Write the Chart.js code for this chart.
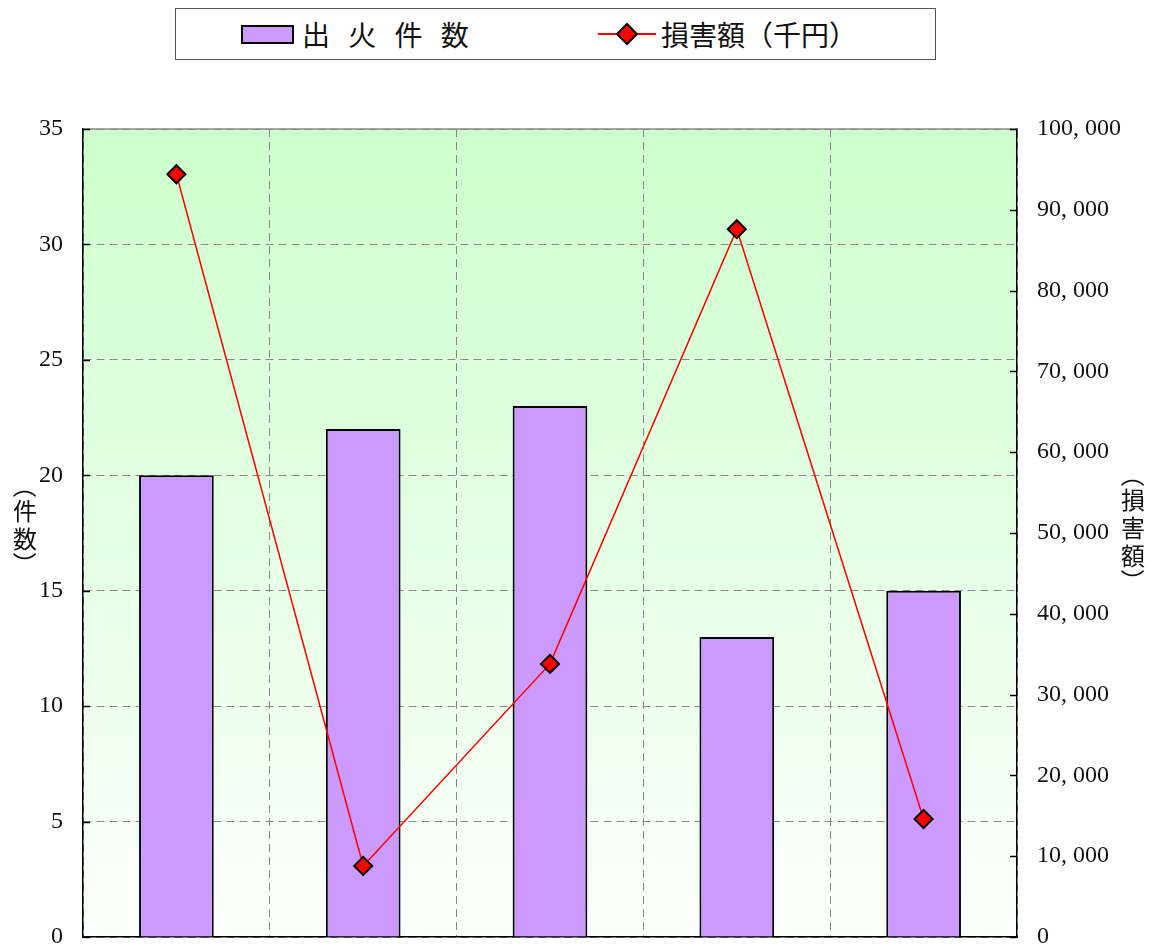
<!DOCTYPE html>
<html lang="ja">
<head>
  <meta charset="UTF-8">
  <title>出火件数と損害額</title>
  <style>
    * {
      margin: 0;
      padding: 0;
      box-sizing: border-box;
    }

    body {
      background-color: #fff;
      font-family: "Noto Sans CJK JP", sans-serif;
    }

    #wrap {
      position: relative;
      width: 1157px;
      height: 952px;
    }

    #legend {
      position: absolute;
      left: 175px;
      top: 8px;
      width: 761px;
      height: 52px;
      border: 1px solid #555;
      background: #fff;
      font-size: 28px;
      color: #111;
    }

    .item {
      position: absolute;
      top: 0;
      height: 50px;
      line-height: 50px;
      white-space: nowrap;
    }

    .swatch {
      position: absolute;
      left: 65px;
      top: 16px;
      width: 53px;
      height: 19px;
      background: #cc99ff;
      border: 2px solid #000;
    }

    .spaced {
      word-spacing: 12px;
    }
  </style>
  <script src="https://cdn.jsdelivr.net/npm/chart.js"></script>
</head>
<body>
  <div id="wrap">
    <canvas id="fireChart" width="1157" height="952"></canvas>
    <div id="legend">
      <span class="swatch"></span>
      <span class="item spaced" style="left:126px">出 火 件 数</span>
      <svg class="item" style="left:422px; top:0" width="60" height="50">
        <line x1="0" y1="25" x2="58" y2="25" stroke="#ff0000" stroke-width="2"/>
        <polygon points="29,15 39,25 29,35 19,25" fill="#ff0000" stroke="#000" stroke-width="2"/>
      </svg>
      <span class="item" style="left:485px">損害額（千円）</span>
    </div>
  </div>

  <script>
    // data
    const categories = ['1', '2', '3', '4', '5'];
    const fireCounts = [20, 22, 23, 13, 15];
    const damageAmounts = [94400, 8800, 33800, 87600, 14600];
    const leftTicks = [0, 5, 10, 15, 20, 25, 30, 35];
    const rightTicks = [0, 10000, 20000, 30000, 40000, 50000, 60000, 70000, 80000, 90000, 100000];

    const tickFont = { family: '"Liberation Serif", "DejaVu Serif", serif', size: 24 };

    function formatYen(v) {
      return v.toLocaleString('en-US').replace(/,/g, ', ');
    }

    // green gradient behind the plot, inward tick marks, top border, axis titles
    const decorPlugin = {
      id: 'decor',
      beforeDraw(chart) {
        const { ctx, chartArea: a } = chart;
        const g = ctx.createLinearGradient(0, a.top, 0, a.bottom);
        g.addColorStop(0, '#ccffcc');
        g.addColorStop(1, '#fcfffc');
        ctx.save();
        ctx.fillStyle = g;
        ctx.fillRect(a.left, a.top, a.right - a.left, a.bottom - a.top);
        ctx.restore();
      },
      afterDraw(chart) {
        const { ctx, chartArea: a } = chart;
        const y = chart.scales.y;
        const y1 = chart.scales.y1;
        ctx.save();
        ctx.strokeStyle = '#888';
        ctx.lineWidth = 1.5;
        ctx.beginPath();
        ctx.moveTo(a.left, a.top);
        ctx.lineTo(a.right, a.top);
        ctx.stroke();

        ctx.strokeStyle = '#000';
        ctx.lineWidth = 1.5;
        leftTicks.forEach(v => {
          const py = Math.round(y.getPixelForValue(v)) + 0.5;
          ctx.beginPath();
          ctx.moveTo(a.left, py);
          ctx.lineTo(a.left + 7, py);
          ctx.stroke();
        });
        rightTicks.forEach(v => {
          const py = Math.round(y1.getPixelForValue(v)) + 0.5;
          ctx.beginPath();
          ctx.moveTo(a.right, py);
          ctx.lineTo(a.right - 7, py);
          ctx.stroke();
        });

        drawVertical(ctx, '（件数）', 25, 525);
        drawVertical(ctx, '（損害額）', 1133, 528);
        ctx.restore();
      }
    };

    // stacked vertical title, parentheses turned sideways
    function drawVertical(ctx, text, x, cy) {
      const size = 24;
      const chars = Array.from(text);
      const steps = chars.map(c => (c === '（' || c === '）') ? 22 : 28);
      const total = steps.reduce((s, v) => s + v, 0);
      let yy = cy - total / 2;
      ctx.save();
      ctx.fillStyle = '#111';
      ctx.font = size + 'px "Noto Sans CJK JP", sans-serif';
      ctx.textAlign = 'center';
      ctx.textBaseline = 'middle';
      chars.forEach((c, i) => {
        const mid = yy + steps[i] / 2;
        if (c === '（' || c === '）') {
          ctx.save();
          ctx.translate(x, mid);
          ctx.rotate(Math.PI / 2);
          ctx.fillText(c, 0, 0);
          ctx.restore();
        } else {
          ctx.fillText(c, x, mid);
        }
        yy += steps[i];
      });
      ctx.restore();
    }

    const ctx = document.getElementById('fireChart').getContext('2d');

    new Chart(ctx, {
      type: 'bar',
      data: {
        labels: categories,
        datasets: [
          {
            type: 'line',
            label: '損害額（千円）',
            data: damageAmounts,
            yAxisID: 'y1',
            order: 0,
            borderColor: '#ff0000',
            borderWidth: 1.5,
            pointStyle: 'rectRot',
            pointRadius: 9,
            pointBackgroundColor: '#ff0000',
            pointBorderColor: '#000',
            pointBorderWidth: 2,
            tension: 0
          },
          {
            label: '出 火 件 数',
            data: fireCounts,
            yAxisID: 'y',
            order: 1,
            backgroundColor: '#cc99ff',
            borderColor: '#000',
            borderWidth: 2,
            barPercentage: 0.4,
            categoryPercentage: 1.0
          }
        ]
      },
      options: {
        responsive: false,
        animation: false,
        layout: { padding: { top: 129, left: 0, right: 0, bottom: 0 } },
        plugins: {
          legend: { display: false },
          tooltip: { enabled: false }
        },
        scales: {
          x: {
            ticks: { display: false },
            grid: { color: '#888', lineWidth: 1, drawTicks: false, offset: true },
            border: { color: '#000', width: 1.5, dash: [8, 5] },
            afterFit(scale) { scale.height = 15; }
          },
          y: {
            position: 'left',
            min: 0,
            max: 35,
            afterBuildTicks(scale) { scale.ticks = leftTicks.map(v => ({ value: v })); },
            ticks: { font: tickFont, color: '#111', padding: 20 },
            grid: { color: '#888', lineWidth: 1, drawTicks: false },
            border: { color: '#000', width: 1.5, dash: [8, 5] },
            afterFit(scale) {
              scale.width = 83;
              scale.paddingTop = 0;
              scale.paddingBottom = 0;
            }
          },
          y1: {
            position: 'right',
            min: 0,
            max: 100000,
            afterBuildTicks(scale) { scale.ticks = rightTicks.map(v => ({ value: v })); },
            ticks: { font: tickFont, color: '#111', padding: 20, callback: v => formatYen(v) },
            grid: { display: false, drawTicks: false },
            border: { color: '#000', width: 1.5 },
            afterFit(scale) {
              scale.width = 140;
              scale.paddingTop = 0;
              scale.paddingBottom = 0;
            }
          }
        }
      },
      plugins: [decorPlugin]
    });
  </script>
</body>
</html>
